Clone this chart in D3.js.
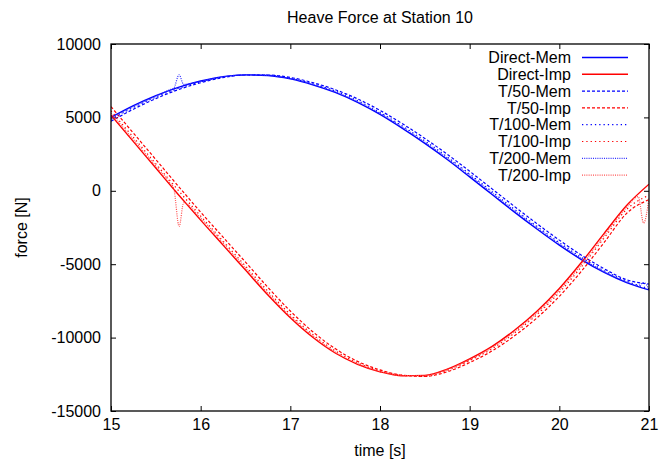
<!DOCTYPE html>
<html>
<head>
<meta charset="utf-8">
<script src="https://cdn.jsdelivr.net/npm/d3@7"></script>
<style>
  body { margin: 0; background: #fff; }
  text { font-family: "Liberation Sans", Arial, sans-serif; fill: #000; }
</style>
</head>
<body>
<svg id="chart" width="660" height="463"></svg>
<script>
// time samples (s)
var time = [15, 15.25, 15.5, 15.75, 16, 16.25, 16.5, 16.75, 17, 17.25, 17.5, 17.75, 18,
            18.25, 18.5, 18.75, 19, 19.25, 19.5, 19.75, 20, 20.25, 20.5, 20.75, 21]
// the T/200 runs have a few extra samples around the glitches
var time200 = [15, 15.25, 15.5, 15.65, 15.7, 15.76, 15.81, 16, 16.25, 16.5, 16.75, 17, 17.25,
               17.5, 17.75, 18, 18.25, 18.5, 18.75, 19, 19.25, 19.5, 19.75, 20, 20.25, 20.5,
               20.75, 20.88, 20.94, 21]

var directMem = [5000, 5800, 6480, 7050, 7480, 7780, 7900, 7850, 7620, 7220, 6700, 6020, 5200,
                 4250, 3230, 2130, 950, -250, -1450, -2600, -3700, -4700, -5560, -6250, -6750]
var directImp = [5150, 3350, 1550, -250, -2000, -3700, -5400, -7100, -8650, -9980, -11050, -11820, -12330,
                 -12600, -12570, -12150, -11450, -10600, -9500, -8200, -6650, -4850, -2900, -1000, 450]
var t50Mem = [4740, 5560, 6280, 6890, 7360, 7710, 7890, 7890, 7720, 7370, 6890, 6260, 5480,
              4570, 3570, 2490, 1330, 130, -1070, -2240, -3360, -4400, -5310, -6060, -6350]
var t50Imp = [5730, 3930, 2130, 320, -1450, -3160, -4860, -6580, -8190, -9600, -10750, -11620, -12200,
              -12560, -12640, -12330, -11700, -10910, -9880, -8660, -7190, -5450, -3520, -1540, -600]
var t100Mem = [4870, 5680, 6380, 6970, 7420, 7750, 7890, 7870, 7670, 7290, 6800, 6140, 5340,
               4410, 3400, 2310, 1140, -60, -1260, -2420, -3530, -4550, -5440, -6150, -6670]
var t100Imp = [5440, 3640, 1840, 30, -1720, -3430, -5130, -6840, -8420, -9790, -10900, -11720, -12270,
               -12580, -12610, -12240, -11570, -10760, -9690, -8430, -6920, -5150, -3210, -1270, -300]
var t200Mem = [4940, 5740, 6430, 6870, 7000, 7900, 7250, 7450, 7760, 7900, 7860, 7650, 7260,
               6750, 6080, 5270, 4330, 3310, 2220, 1050, -150, -1360, -2510, -3620, -4630, -5500,
               -6200, -6450, -6250, -6700]
var t200Imp = [5290, 3490, 1690, 600, 150, -2430, -820, -1860, -3560, -5260, -6970, -8540, -9880,
               -10980, -11770, -12300, -12590, -12590, -12190, -11510, -10680, -9600, -8310, -6780, -5000, -3050,
               -1130, -400, -2200, -500]

var seriesNames = ['Direct-Mem', 'Direct-Imp', 'T/50-Mem', 'T/50-Imp', 'T/100-Mem', 'T/100-Imp', 'T/200-Mem', 'T/200-Imp']
var xTicks = [15, 16, 17, 18, 19, 20, 21]
var yTicks = [-15000, -10000, -5000, 0, 5000, 10000]

var series = [
  { name: seriesNames[0], t: time, v: directMem, color: '#0000ff', dash: null },
  { name: seriesNames[1], t: time, v: directImp, color: '#ff0000', dash: null },
  { name: seriesNames[2], t: time, v: t50Mem, color: '#0000ff', dash: '3,2' },
  { name: seriesNames[3], t: time, v: t50Imp, color: '#ff0000', dash: '3,2' },
  { name: seriesNames[4], t: time, v: t100Mem, color: '#0000ff', dash: '1.3,3' },
  { name: seriesNames[5], t: time, v: t100Imp, color: '#ff0000', dash: '1.3,3' },
  { name: seriesNames[6], t: time200, v: t200Mem, color: '#3030ff', dash: '1,1.2' },
  { name: seriesNames[7], t: time200, v: t200Imp, color: '#ff5050', dash: '1,1.2' }
]

var plotL = 111, plotR = 649, plotT = 44, plotB = 411
var fontSize = '16px'
var svg = d3.select('#chart')

var x = d3.scaleLinear().domain([15, 21]).range([plotL, plotR])
var y = d3.scaleLinear().domain([-15000, 10000]).range([plotB, plotT])

// plain hyphen minus, like gnuplot
var plainFmt = function(d) { return String(d) }

svg.append('clipPath').attr('id', 'plotclip')
  .append('rect')
  .attr('x', plotL).attr('y', plotT)
  .attr('width', plotR - plotL).attr('height', plotB - plotT)

// axes, gnuplot style: ticks pointing inward on all four sides
svg.append('g')
  .attr('transform', 'translate(0,' + plotB + ')')
  .call(d3.axisBottom(x).tickValues(xTicks).tickSize(-5).tickPadding(8).tickFormat(plainFmt))
svg.append('g')
  .attr('transform', 'translate(0,' + plotT + ')')
  .call(d3.axisTop(x).tickValues(xTicks).tickSize(-5).tickFormat(''))
svg.append('g')
  .attr('transform', 'translate(' + plotL + ',0)')
  .call(d3.axisLeft(y).tickValues(yTicks).tickSize(-5).tickPadding(10).tickFormat(plainFmt))
svg.append('g')
  .attr('transform', 'translate(' + plotR + ',0)')
  .call(d3.axisRight(y).tickValues(yTicks).tickSize(-5).tickFormat(''))

svg.selectAll('.domain').remove()
svg.selectAll('.tick line').attr('stroke', '#000').attr('stroke-width', 1)
svg.selectAll('.tick text').style('font-size', fontSize).style('font-family', '"Liberation Sans", Arial, sans-serif').attr('fill', '#000')

var line = d3.line()
  .curve(d3.curveMonotoneX)

var plot = svg.append('g').attr('clip-path', 'url(#plotclip)')
series.forEach(function(s) {
  var pts = s.t.map(function(t, i) { return [x(t), y(s.v[i])] })
  plot.append('path')
    .attr('d', line(pts))
    .attr('fill', 'none')
    .attr('stroke', s.color)
    .attr('stroke-width', s.dash ? 1.2 : 1.4)
    .attr('stroke-dasharray', s.dash)
})

// border
svg.append('rect')
  .attr('x', plotL).attr('y', plotT)
  .attr('width', plotR - plotL).attr('height', plotB - plotT)
  .attr('fill', 'none').attr('stroke', '#000').attr('stroke-width', 1.3)

// legend
var legend = svg.append('g')
series.forEach(function(s, i) {
  var ly = 57.5 + i * 16.8
  legend.append('text')
    .attr('x', 571).attr('y', ly)
    .attr('dy', '0.35em')
    .attr('text-anchor', 'end')
    .style('font-size', fontSize)
    .text(s.name)
  legend.append('line')
    .attr('x1', 582).attr('x2', 628)
    .attr('y1', ly).attr('y2', ly)
    .attr('stroke', s.color)
    .attr('stroke-width', s.dash ? 1.2 : 1.4)
    .attr('stroke-dasharray', s.dash)
})

// titles
svg.append('text')
  .attr('x', (plotL + plotR) / 2).attr('y', 23)
  .attr('text-anchor', 'middle')
  .style('font-size', fontSize)
  .text('Heave Force at Station 10')
svg.append('text')
  .attr('x', (plotL + plotR) / 2).attr('y', 456)
  .attr('text-anchor', 'middle')
  .style('font-size', fontSize)
  .text('time [s]')
svg.append('text')
  .attr('transform', 'translate(27,' + ((plotT + plotB) / 2) + ') rotate(-90)')
  .attr('text-anchor', 'middle')
  .style('font-size', fontSize)
  .text('force [N]')
</script>
</body>
</html>
